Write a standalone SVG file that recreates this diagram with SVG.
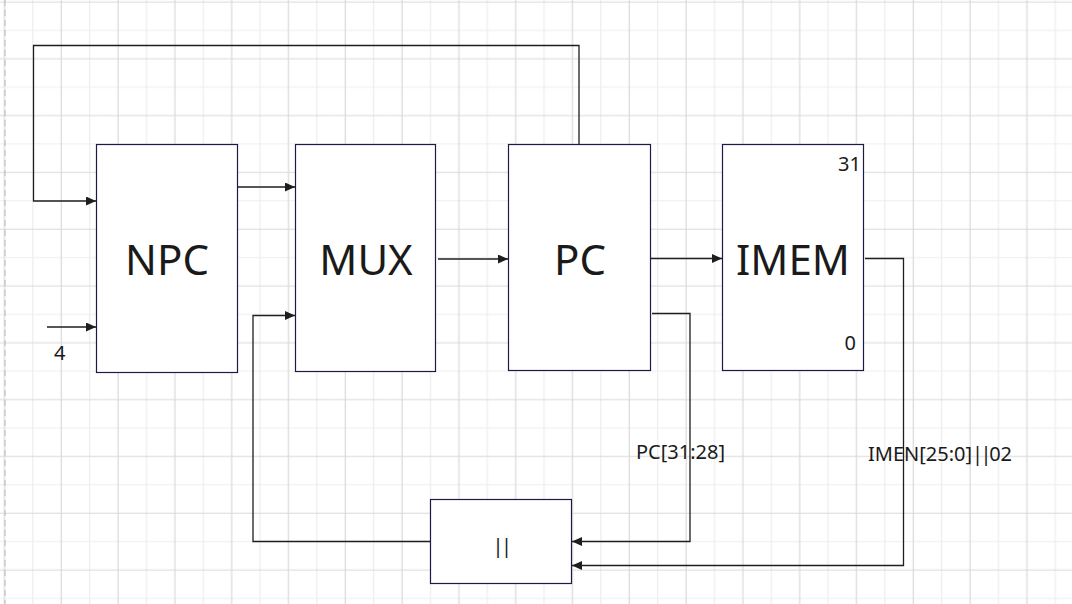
<svg xmlns="http://www.w3.org/2000/svg" width="1072" height="604" viewBox="0 0 1072 604">
<style>
.box{fill:#ffffff;stroke:#1b1b45;stroke-width:1.2}
.big{font-family:"Noto Sans","Open Sans",sans-serif;font-size:42px;fill:#1a1a1a;text-anchor:middle}
.sm{font-family:"Noto Sans","Open Sans",sans-serif;font-size:20px;fill:#1a1a1a}
.wire{fill:none;stroke:#1e1e1e;stroke-width:1.3}
.bars{letter-spacing:-2.5px}
</style>
<defs>
<pattern id="grid" x="-9.7" y="-12.2" width="56.8" height="56.8" patternUnits="userSpaceOnUse">
<path d="M42.6,0 V56.8 M0,42.6 H56.8" stroke="#ededed" stroke-width="1.2" fill="none"/>
<path d="M14.2,0 V56.8 M0,14.2 H56.8" stroke="#d9d9d9" stroke-width="1.2" fill="none"/>
</pattern>
<marker id="arr" viewBox="0 0 10 9" refX="10" refY="4.5" markerWidth="10" markerHeight="9" markerUnits="userSpaceOnUse" orient="auto">
<path d="M0,0 L10,4.5 L0,9 z" fill="#1e1e1e"/>
</marker>
</defs>
<rect x="0" y="0" width="1072" height="604" fill="#ffffff"/>
<rect x="0" y="0" width="1072" height="604" fill="url(#grid)"/>
<line x1="5" y1="0" x2="5" y2="604" stroke="#b8b8b8" stroke-width="1" stroke-dasharray="6,4"/>

<g id="connectors">
<polyline class="wire" points="579,144 579,45.5 33.5,45.5 33.5,201 96,201" marker-end="url(#arr)"/>
<line class="wire" x1="47" y1="327" x2="96" y2="327" marker-end="url(#arr)"/>
<line class="wire" x1="238" y1="187" x2="295" y2="187" marker-end="url(#arr)"/>
<line class="wire" x1="438" y1="259" x2="508" y2="259" marker-end="url(#arr)"/>
<polyline class="wire" points="430,541.5 253,541.5 253,315.5 295,315.5" marker-end="url(#arr)"/>
<line class="wire" x1="651" y1="258.5" x2="722" y2="258.5" marker-end="url(#arr)"/>
<polyline class="wire" points="652,313.5 690,313.5 690,541.5 572,541.5" marker-end="url(#arr)"/>
<polyline class="wire" points="865,258.5 903.5,258.5 903.5,565.5 572,565.5" marker-end="url(#arr)"/>
</g>

<g id="npc">
<rect class="box" x="96.5" y="144.5" width="141" height="228"/>
<text class="big" x="167" y="275">NPC</text>
</g>
<g id="mux">
<rect class="box" x="295.5" y="144.5" width="140" height="227"/>
<text class="big" x="366" y="275">MUX</text>
</g>
<g id="pc">
<rect class="box" x="508.5" y="144.5" width="142" height="226"/>
<text class="big" x="580" y="275">PC</text>
</g>
<g id="imem">
<rect class="box" x="722.5" y="144.5" width="141" height="226"/>
<text class="big" x="793" y="275">IMEM</text>
<text class="sm" x="861" y="171" font-size="23" text-anchor="end">31</text>
<text class="sm" x="856" y="350" font-size="23" text-anchor="end">0</text>
</g>
<g id="concat">
<rect class="box" x="430.5" y="499.5" width="141" height="84"/>
<text class="sm bars" x="492.5" y="553" font-size="25">||</text>
</g>
<g id="labels">
<text class="sm" x="54" y="360">4</text>
<text class="sm" x="636" y="459">PC[31:28]</text>
<text class="sm" x="868" y="460.5">IMEN[25:0]<tspan class="bars">||</tspan>02</text>
</g>
</svg>
